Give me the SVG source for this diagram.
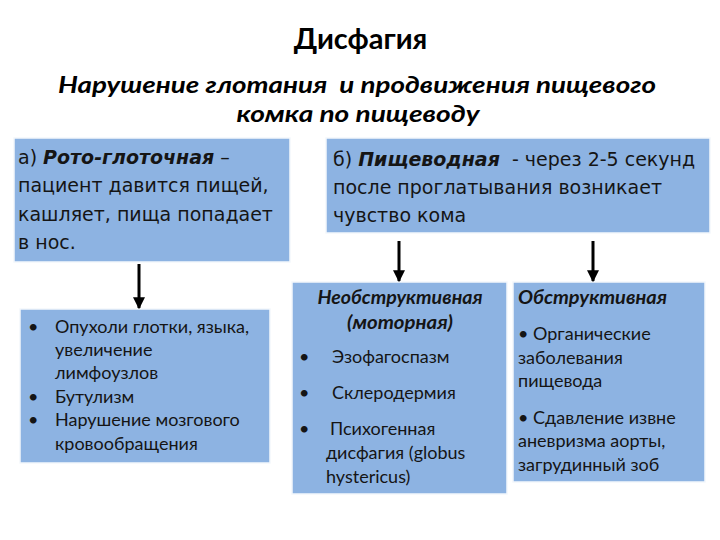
<svg xmlns="http://www.w3.org/2000/svg" width="720" height="540" viewBox="0 0 720 540">
<defs>
<style>
.box{fill:#8db3e2;stroke:#f4f8fc;stroke-width:1.5}
.t{font-family:"DejaVu Sans","Noto Sans",sans-serif;font-size:19px;fill:#151515}
.c{font-family:Lato,"Open Sans","Noto Sans",sans-serif;font-size:18px;fill:#151515}
.bi{font-weight:bold;font-style:italic}
.h{font-family:Lato,"Open Sans","Noto Sans",sans-serif;fill:#000;font-weight:bold}
.conn{stroke:#000;stroke-width:3;fill:none}
</style>
<marker id="ah" viewBox="0 0 10 10" refX="9" refY="5" markerWidth="4" markerHeight="4" orient="auto" markerUnits="strokeWidth">
<path d="M0,0 L10,5 L0,10 z" fill="#000"/>
</marker>
</defs>
<rect width="720" height="540" fill="#fff"/>
<g id="title">
<text class="h" x="360.5" y="49" font-size="29" text-anchor="middle">Дисфагия</text>
<text class="h" x="357" y="93" font-size="23" font-style="italic" text-anchor="middle" textLength="598" lengthAdjust="spacingAndGlyphs" xml:space="preserve">Нарушение глотания  и продвижения пищевого</text>
<text class="h" x="358" y="122" font-size="23" font-style="italic" text-anchor="middle" textLength="243" lengthAdjust="spacingAndGlyphs">комка по пищеводу</text>
</g>
<g id="nodeA">
<rect class="box" x="14" y="138" width="276" height="124"/>
<text class="t" x="18" y="164"><tspan>а) </tspan><tspan class="bi">Рото-глоточная</tspan><tspan> –</tspan></text>
<text class="t" x="18" y="192">пациент давится пищей,</text>
<text class="t" x="18" y="221">кашляет, пища попадает</text>
<text class="t" x="18" y="249">в нос.</text>
</g>
<g id="nodeB">
<rect class="box" x="326" y="138" width="384" height="95"/>
<text class="t" x="333" y="166"><tspan>б) </tspan><tspan class="bi">Пищеводная</tspan><tspan xml:space="preserve">  - через 2-5 секунд</tspan></text>
<text class="t" x="333" y="194">после проглатывания возникает</text>
<text class="t" x="333" y="222">чувство кома</text>
</g>
<g id="nodeC">
<rect class="box" x="20" y="309" width="250" height="154"/>
<text class="c" x="28" y="333">•</text>
<text class="c" x="55" y="333">Опухоли глотки, языка,</text>
<text class="c" x="55" y="356">увеличение</text>
<text class="c" x="55" y="379">лимфоузлов</text>
<text class="c" x="28" y="403">•</text>
<text class="c" x="55" y="403">Бутулизм</text>
<text class="c" x="28" y="426">•</text>
<text class="c" x="55" y="426">Нарушение мозгового</text>
<text class="c" x="55" y="450">кровообращения</text>
</g>
<g id="nodeD">
<rect class="box" x="292" y="282" width="215" height="212"/>
<text class="c bi" x="400" y="304" text-anchor="middle" textLength="165" lengthAdjust="spacingAndGlyphs">Необструктивная</text>
<text class="c bi" x="400" y="329" text-anchor="middle" textLength="106" lengthAdjust="spacingAndGlyphs">(моторная)</text>
<text class="c" x="299" y="363">•</text>
<text class="c" x="332" y="363">Эзофагоспазм</text>
<text class="c" x="299" y="399">•</text>
<text class="c" x="332" y="399">Склеродермия</text>
<text class="c" x="299" y="435">•</text>
<text class="c" x="330" y="435">Психогенная</text>
<text class="c" x="326" y="459">дисфагия (globus</text>
<text class="c" x="326" y="483">hystericus)</text>
</g>
<g id="nodeE">
<rect class="box" x="513" y="282" width="192" height="200"/>
<text class="c bi" x="518" y="304" textLength="149" lengthAdjust="spacingAndGlyphs">Обструктивная</text>
<text class="c" x="518" y="340">• Органические</text>
<text class="c" x="518" y="364">заболевания</text>
<text class="c" x="518" y="387">пищевода</text>
<text class="c" x="518" y="424">• Сдавление извне</text>
<text class="c" x="518" y="447">аневризма аорты,</text>
<text class="c" x="518" y="471">загрудинный зоб</text>
</g>
<g id="connectors">
<line class="conn" x1="139" y1="264" x2="139" y2="308" marker-end="url(#ah)"/>
<line class="conn" x1="399" y1="241" x2="399" y2="281" marker-end="url(#ah)"/>
<line class="conn" x1="593" y1="241" x2="593" y2="281" marker-end="url(#ah)"/>
</g>
</svg>
